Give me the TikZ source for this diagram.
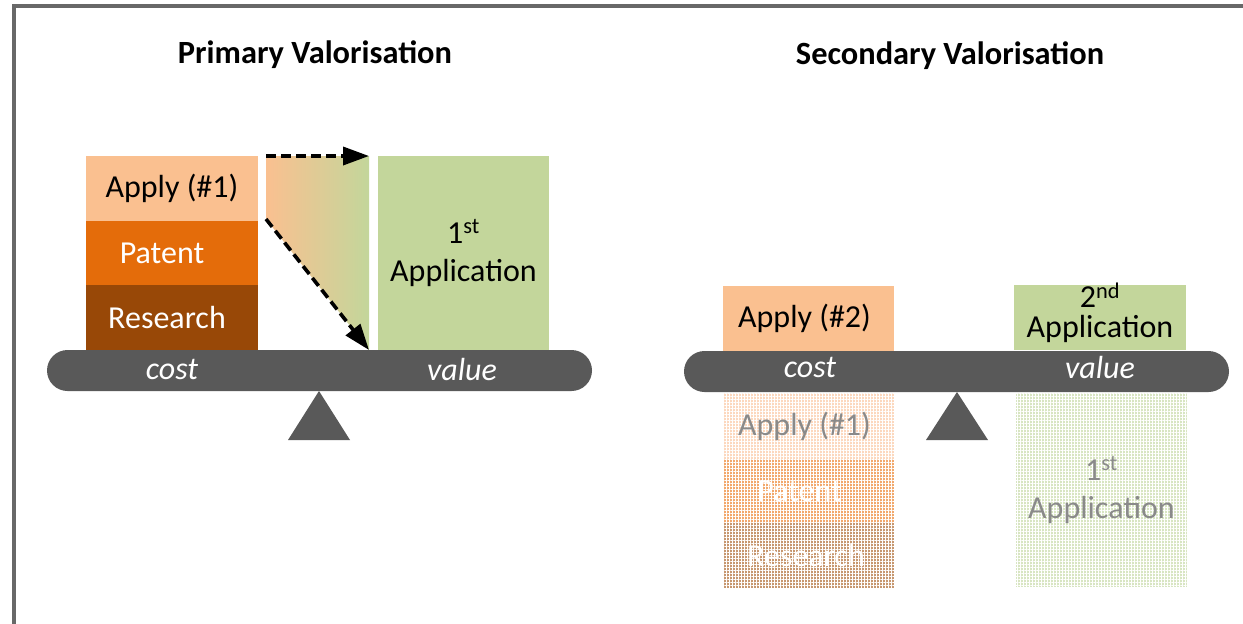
\documentclass[tikz,border=0pt]{standalone}
\usepackage{fontspec}
\setmainfont{Carlito}
\usetikzlibrary{arrows.meta,patterns.meta}

\definecolor{applyC}{HTML}{FAC090}
\definecolor{patentC}{HTML}{E46C0A}
\definecolor{researchC}{HTML}{984807}
\definecolor{appC}{HTML}{C3D69B}
\definecolor{beamC}{HTML}{595959}
\definecolor{frameC}{HTML}{686868}
\definecolor{applyF}{HTML}{FCD8BE}
\definecolor{patentF}{HTML}{F2A86C}
\definecolor{researchF}{HTML}{C7976F}
\definecolor{appF}{HTML}{D8E5C2}
\definecolor{ghostText}{HTML}{8A8A8A}

\tikzset{
  x=1pt, y=-1pt,
  title/.style={font=\fontsize{32.4}{38}\selectfont\bfseries, inner sep=0pt},
  block/.style={inner sep=0pt, outer sep=0pt, anchor=north west,
    font=\fontsize{32}{38}\selectfont, align=center},
  beam/.style={fill=beamC, rounded corners=20.5pt, inner sep=0pt,
    outer sep=0pt, anchor=north west, minimum height=41pt},
  beamlabel/.style={text=white, font=\fontsize{32}{38}\selectfont\itshape, inner sep=0pt},
  pivot/.style={fill=beamC},
  faded/.style={postaction={pattern={Lines[angle=0,distance=3pt,line width=0.6pt]},
      pattern color=white},
    postaction={pattern={Lines[angle=90,distance=3pt,line width=0.6pt]},
      pattern color=white}},
  flow/.style={line width=3.6pt, dash pattern=on 10pt off 5pt,
    -{Triangle[length=26pt,width=18pt]}},
}

\begin{document}
\begin{tikzpicture}
\useasboundingbox (0,0) rectangle (1243,624);

% frame
\draw[frameC, line width=4pt] (14,624) -- (14,6) -- (1243,6);

% titles
\node[title] (t1) at (315,55) {Primary Valorisation};
\node[title] (t2) at (950,56) {Secondary Valorisation};

% ---------- primary balance ----------
\node[block, fill=applyC, minimum width=172pt, minimum height=65pt] (apply1) at (86,156) {Apply (\#1)};
\node[block, fill=patentC, text=white, minimum width=172pt, minimum height=64pt] (patent1) at (86,221) {Patent\hspace*{20pt}};
\node[block, fill=researchC, text=white, minimum width=172pt, minimum height=65pt] (research1) at (86,285) {Research\hspace*{10pt}};

\node[block, fill=appC, minimum width=171pt, minimum height=194pt] (app1) at (378,156) {1\textsuperscript{st}\\Application};

% transfer wedge with arrows
\coordinate (g1) at (266,156);
\coordinate (g2) at (266,219);
\coordinate (g3) at (369,156);
\coordinate (g4) at (369,350);
\shade[left color=applyC, right color=appC] (g1) -- (g3) -- (g4) -- (g2) -- cycle;
\draw[flow] (g1) -- (g3);
\draw[flow] (g2) -- (g4);

\node[beam, minimum width=545pt] (beam1) at (47,350) {};
\node[beamlabel] (cost1) at (172,369) {cost};
\node[beamlabel] (value1) at (462,369) {value};
\fill[pivot] (319,391) -- (350,440) -- (288,440) -- cycle;

% ---------- secondary balance ----------
\node[block, fill=applyC, minimum width=171pt, minimum height=65pt] (apply2) at (723,286) {Apply (\#2)\hspace*{8pt}};
\node[block, fill=appC, minimum width=172pt, minimum height=65pt] (app2) at (1014,285) {};
\node[font=\fontsize{32}{30}\selectfont, align=center, inner sep=0pt] (app2t) at (1100,313) {2\textsuperscript{nd}\\Application};

\node[beam, minimum width=545pt] (beam2) at (684,351) {};
\node[beamlabel] (cost2) at (810,367) {cost};
\node[beamlabel] (value2) at (1100,367) {value};
\fill[pivot] (957,392) -- (988,440) -- (926,440) -- cycle;

% faded history below the beam
\node[block, faded, fill=applyF, text=ghostText, minimum width=171pt, minimum height=66pt] (apply1f) at (724,393) {Apply (\#1)\hspace*{10pt}};
\node[block, faded, fill=patentF, text=white, minimum width=171pt, minimum height=64pt] (patent1f) at (724,459) {Patent\hspace*{20pt}};
\node[block, faded, fill=researchF, text=white, minimum width=171pt, minimum height=65pt] (research1f) at (724,523) {Research\hspace*{7pt}};
\node[block, faded, fill=appF, text=ghostText, minimum width=171pt, minimum height=194pt] (app1f) at (1016,393) {1\textsuperscript{st}\\Application};
\end{tikzpicture}
\end{document}
